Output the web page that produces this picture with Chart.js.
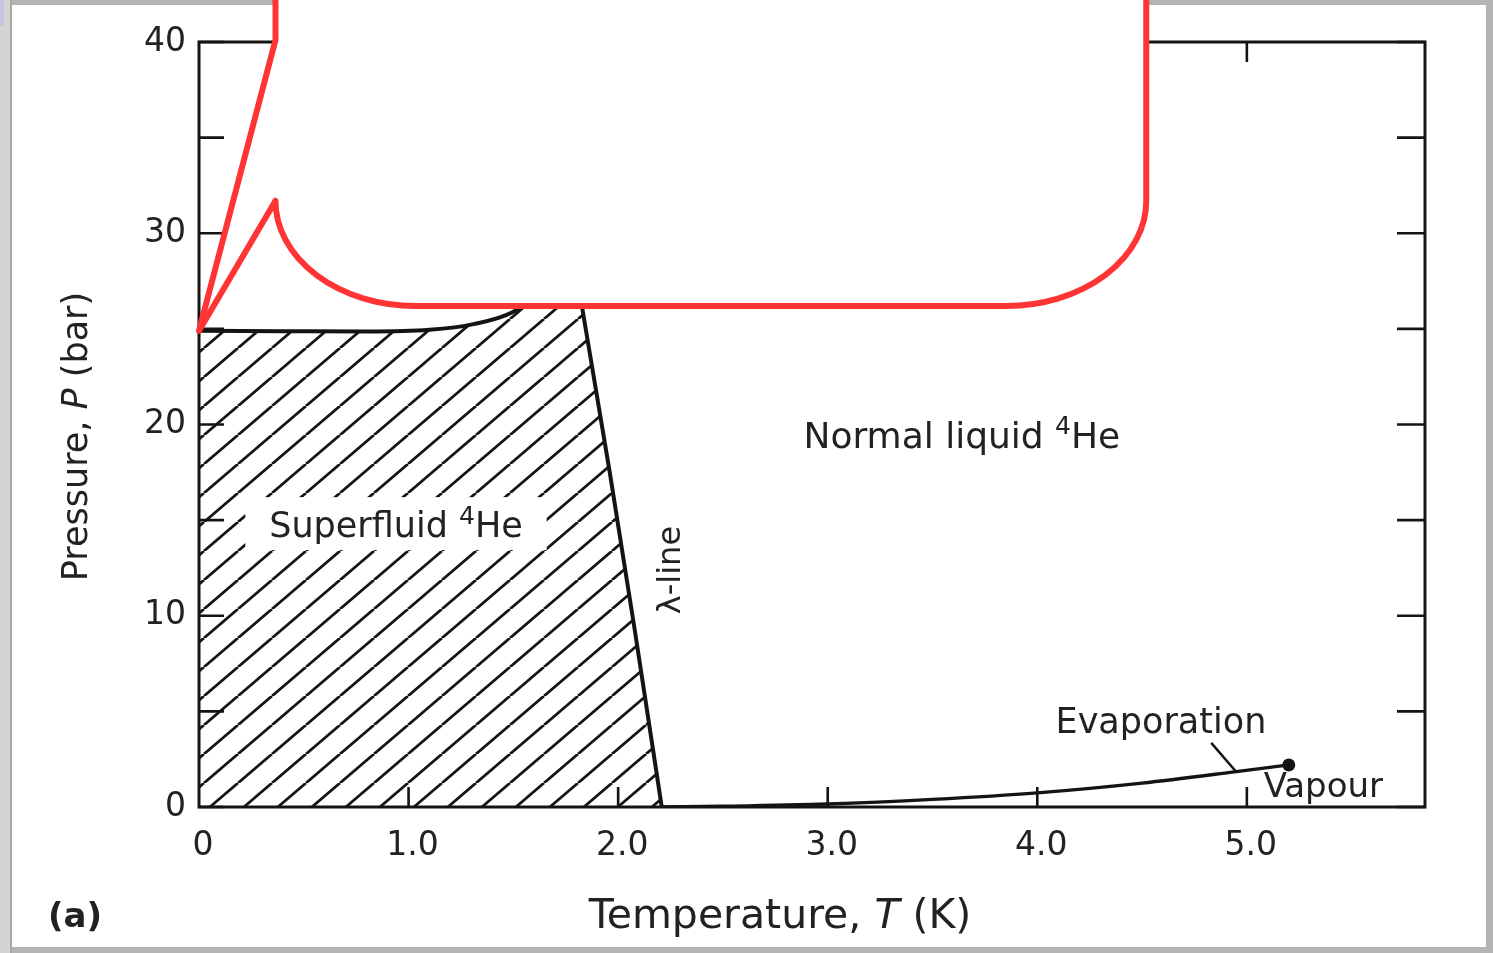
<!DOCTYPE html>
<html lang="en">
<head>
<meta charset="UTF-8">
<title>Phase diagram of 4He</title>
<script src="https://cdn.jsdelivr.net/npm/chart.js"></script>
<style>
  html, body { margin: 0; padding: 0; background: #fff; overflow: hidden; }
  canvas { display: block; }
</style>
</head>
<body>
<canvas id="Chart" width="1493" height="953"></canvas>
<script>
// values (T in K, P in bar)
const meltingT = [0, 0.4, 0.8, 1.1, 1.31, 1.5, 1.62, 1.72, 1.77];
const meltingP = [24.9, 24.88, 24.86, 24.95, 25.25, 25.9, 26.9, 28.4, 29.7];
const lambdaT = [1.83, 1.96, 2.08, 2.208];
const lambdaP = [26.0, 17.5, 9.2, 0];
const evapT = [2.208, 2.5, 3.0, 3.5, 4.0, 4.5, 4.95, 5.2];
const evapP = [0, 0.04, 0.16, 0.4, 0.74, 1.25, 1.85, 2.2];
const xTicks = [0, 1, 2, 3, 4, 5];
const yTicks = [0, 10, 20, 30, 40];
const yMinorTicks = [5, 15, 25, 35];

const FONT = '"DejaVu Sans", "Liberation Sans", sans-serif';
const INK = '#141414';
const TEXT = '#222';

// diagonal hatching for the superfluid region
function makeHatch() {
    const w = 34, h = 29;
    const c = document.createElement('canvas');
    c.width = w; c.height = h;
    const g = c.getContext('2d');
    g.strokeStyle = INK;
    g.lineWidth = 2.8;
    [-w, 0, w].forEach(o => {
        g.beginPath();
        g.moveTo(o, h);
        g.lineTo(o + w, 0);
        g.stroke();
    });
    return g.createPattern(c, 'repeat');
}

const superfluidPts = meltingT.map((t, i) => ({x: t, y: meltingP[i]}))
    .concat(lambdaT.map((t, i) => ({x: t, y: lambdaP[i]})));
const evapPts = evapT.map((t, i) => ({x: t, y: evapP[i]}));

// text with superscript parts: [[text, sup?], ...]
function richText(ctx, parts, x, y, size, align) {
    const widths = parts.map(p => {
        ctx.font = (p[1] ? Math.round(size * 0.7) : size) + 'px ' + FONT;
        return ctx.measureText(p[0]).width;
    });
    const total = widths.reduce((a, b) => a + b, 0);
    let cx = align === 'center' ? x - total / 2 : x;
    ctx.textAlign = 'left';
    ctx.textBaseline = 'alphabetic';
    parts.forEach((p, i) => {
        ctx.font = (p[1] ? Math.round(size * 0.7) : size) + 'px ' + FONT;
        ctx.fillText(p[0], cx, p[1] ? y - size * 0.38 : y);
        cx += widths[i];
    });
    return total;
}

function mixedText(ctx, parts, x, y, size) {
    // parts: [text, italic?], centred on x
    const widths = parts.map(p => {
        ctx.font = (p[1] ? 'italic ' : '') + size + 'px ' + FONT;
        return ctx.measureText(p[0]).width;
    });
    const total = widths.reduce((a, b) => a + b, 0);
    let cx = x - total / 2;
    ctx.textAlign = 'left';
    parts.forEach((p, i) => {
        ctx.font = (p[1] ? 'italic ' : '') + size + 'px ' + FONT;
        ctx.fillText(p[0], cx, y);
        cx += widths[i];
    });
}

const framePlugin = {
    id: 'frame',
    beforeDraw(chart) {
        const c = chart.ctx, W = chart.width, H = chart.height;
        c.save();
        c.fillStyle = '#fff';
        c.fillRect(0, 0, W, H);
        c.fillStyle = '#b4b4b4';
        c.fillRect(0, 0, W, 5);
        c.fillRect(W - 7, 0, 7, H);
        c.fillRect(0, H - 6, W, 6);
        c.fillStyle = '#d4d4d4';
        c.fillRect(0, 0, 10, H);
        c.fillStyle = '#a9a9a9';
        c.fillRect(10, 0, 2, H);
        c.fillStyle = '#c6c8e2';
        c.fillRect(0, 0, 4, 26);
        c.restore();
    }
};

const decorPlugin = {
    id: 'decor',
    afterDatasetsDraw(chart) {
        const c = chart.ctx, a = chart.chartArea;
        const xs = chart.scales.x, ys = chart.scales.y;
        c.save();
        // plot box
        c.strokeStyle = INK;
        c.lineWidth = 3;
        c.strokeRect(a.left, a.top, a.right - a.left, a.bottom - a.top);
        // inward tick marks
        c.lineWidth = 2.6;
        c.beginPath();
        yTicks.concat(yMinorTicks).forEach(v => {
            const py = ys.getPixelForValue(v);
            c.moveTo(a.left, py); c.lineTo(a.left + 25, py);
            c.moveTo(a.right, py); c.lineTo(a.right - 28, py);
        });
        xTicks.slice(1).forEach(v => {
            const px = xs.getPixelForValue(v);
            c.moveTo(px, a.bottom); c.lineTo(px, a.bottom - 20);
            c.moveTo(px, a.top); c.lineTo(px, a.top + 20);
        });
        c.stroke();

        // region labels
        c.fillStyle = TEXT;
        // superfluid label on a white box
        const sx = xs.getPixelForValue(0.94), sy = ys.getPixelForValue(14.11);
        c.font = '35px ' + FONT;
        const sw = c.measureText('Superfluid He').width + 35 * 0.7 * 0.64;
        c.fillStyle = '#fff';
        c.fillRect(sx - sw / 2 - 24, sy - 40, sw + 48, 53);
        c.fillStyle = TEXT;
        richText(c, [['Superfluid '], ['4', true], ['He']], sx, sy, 35, 'center');

        richText(c, [['Normal liquid '], ['4', true], ['He']],
            xs.getPixelForValue(3.64), ys.getPixelForValue(18.77), 36, 'center');

        c.font = '35px ' + FONT;
        c.textAlign = 'center';
        c.textBaseline = 'alphabetic';
        c.fillText('Evaporation', xs.getPixelForValue(4.59), ys.getPixelForValue(3.87));
        c.font = '34px ' + FONT;
        c.textAlign = 'left';
        c.fillText('Vapour', xs.getPixelForValue(5.08), ys.getPixelForValue(0.52));

        // leader from the label to the curve
        c.strokeStyle = INK;
        c.lineWidth = 2.5;
        c.beginPath();
        c.moveTo(xs.getPixelForValue(4.83), ys.getPixelForValue(3.35));
        c.lineTo(xs.getPixelForValue(4.95), ys.getPixelForValue(1.83));
        c.stroke();

        // lambda-line label, rotated
        c.save();
        c.translate(xs.getPixelForValue(2.295), ys.getPixelForValue(12.39));
        c.rotate(-Math.PI / 2);
        c.font = '32px ' + FONT;
        c.textAlign = 'center';
        c.fillText('\u03bb-line', 0, 0);
        c.restore();

        // axis titles
        c.fillStyle = TEXT;
        c.textBaseline = 'alphabetic';
        mixedText(c, [['Temperature, '], ['T', true], [' (K)']], a.left + 581, a.bottom + 121, 41);
        c.save();
        c.translate(a.left - 112, (a.top + a.bottom) / 2 + 12);
        c.rotate(-Math.PI / 2);
        c.textBaseline = 'alphabetic';
        mixedText(c, [['Pressure, '], ['P', true], [' (bar)']], 0, 0, 35);
        c.restore();

        c.font = 'bold 34px ' + FONT;
        c.textAlign = 'left';
        c.fillText('(a)', a.left - 151, a.bottom + 120);
        c.restore();
    },
    afterDraw(chart) {
        // red callout bubble pasted over the top of the figure
        const c = chart.ctx;
        const xs = chart.scales.x, ys = chart.scales.y;
        const left = xs.getPixelForValue(0.365), right = xs.getPixelForValue(4.52);
        const bottom = ys.getPixelForValue(26.2), top = -20;
        const tipX = xs.getPixelForValue(0), tipY = ys.getPixelForValue(24.9);
        const joinTop = ys.getPixelForValue(40.1), joinBot = ys.getPixelForValue(31.7);
        const rx = 140, ry = bottom - joinBot;
        c.save();
        c.beginPath();
        c.moveTo(left, top);
        c.lineTo(left, joinTop);
        c.lineTo(tipX, tipY);
        c.lineTo(left, joinBot);
        c.ellipse(left + rx, joinBot, rx, ry, 0, Math.PI, Math.PI / 2, true);
        c.lineTo(right - rx, bottom);
        c.ellipse(right - rx, joinBot, rx, ry, 0, Math.PI / 2, 0, true);
        c.lineTo(right, top);
        c.closePath();
        c.fillStyle = '#fff';
        c.fill();
        c.strokeStyle = '#ff3434';
        c.lineWidth = 6;
        c.lineJoin = 'round';
        c.stroke();
        c.restore();
    }
};

const ctx = document.getElementById('Chart').getContext('2d');
const chart = new Chart(ctx, {
    type: 'line',
    data: {
        datasets: [
            {
                label: 'Superfluid boundary',
                data: superfluidPts,
                borderColor: INK,
                borderWidth: 4,
                backgroundColor: makeHatch(),
                fill: 'origin',
                pointRadius: 0,
                cubicInterpolationMode: 'monotone'
            },
            {
                label: 'Evaporation',
                data: evapPts,
                borderColor: INK,
                borderWidth: 3.4,
                fill: false,
                pointRadius: evapT.map((t, i) => i === evapT.length - 1 ? 6.5 : 0),
                pointBackgroundColor: INK,
                pointBorderWidth: 0,
                cubicInterpolationMode: 'monotone'
            }
        ]
    },
    options: {
        responsive: false,
        animation: false,
        layout: { padding: { top: 42, right: 68, left: 0, bottom: 0 } },
        scales: {
            x: {
                type: 'linear',
                min: 0,
                max: 5.85,
                grid: { display: false, drawTicks: false },
                border: { display: false },
                afterBuildTicks: s => { s.ticks = xTicks.map(v => ({value: v})); },
                afterFit: s => { s.height = 146; },
                ticks: {
                    color: TEXT,
                    font: { family: FONT, size: 33 },
                    padding: 20,
                    labelOffset: 4,
                    maxRotation: 0,
                    autoSkip: false,
                    callback: v => v === 0 ? '0' : v.toFixed(1)
                }
            },
            y: {
                type: 'linear',
                min: 0,
                max: 40,
                grid: { display: false, drawTicks: false },
                border: { display: false },
                afterBuildTicks: s => { s.ticks = yTicks.map(v => ({value: v})); },
                afterFit: s => { s.width = 199; },
                ticks: {
                    color: TEXT,
                    font: { family: FONT, size: 33 },
                    padding: 13,
                    autoSkip: false
                }
            }
        },
        plugins: {
            legend: { display: false },
            tooltip: { enabled: false }
        }
    },
    plugins: [framePlugin, decorPlugin]
});
</script>
</body>
</html>
